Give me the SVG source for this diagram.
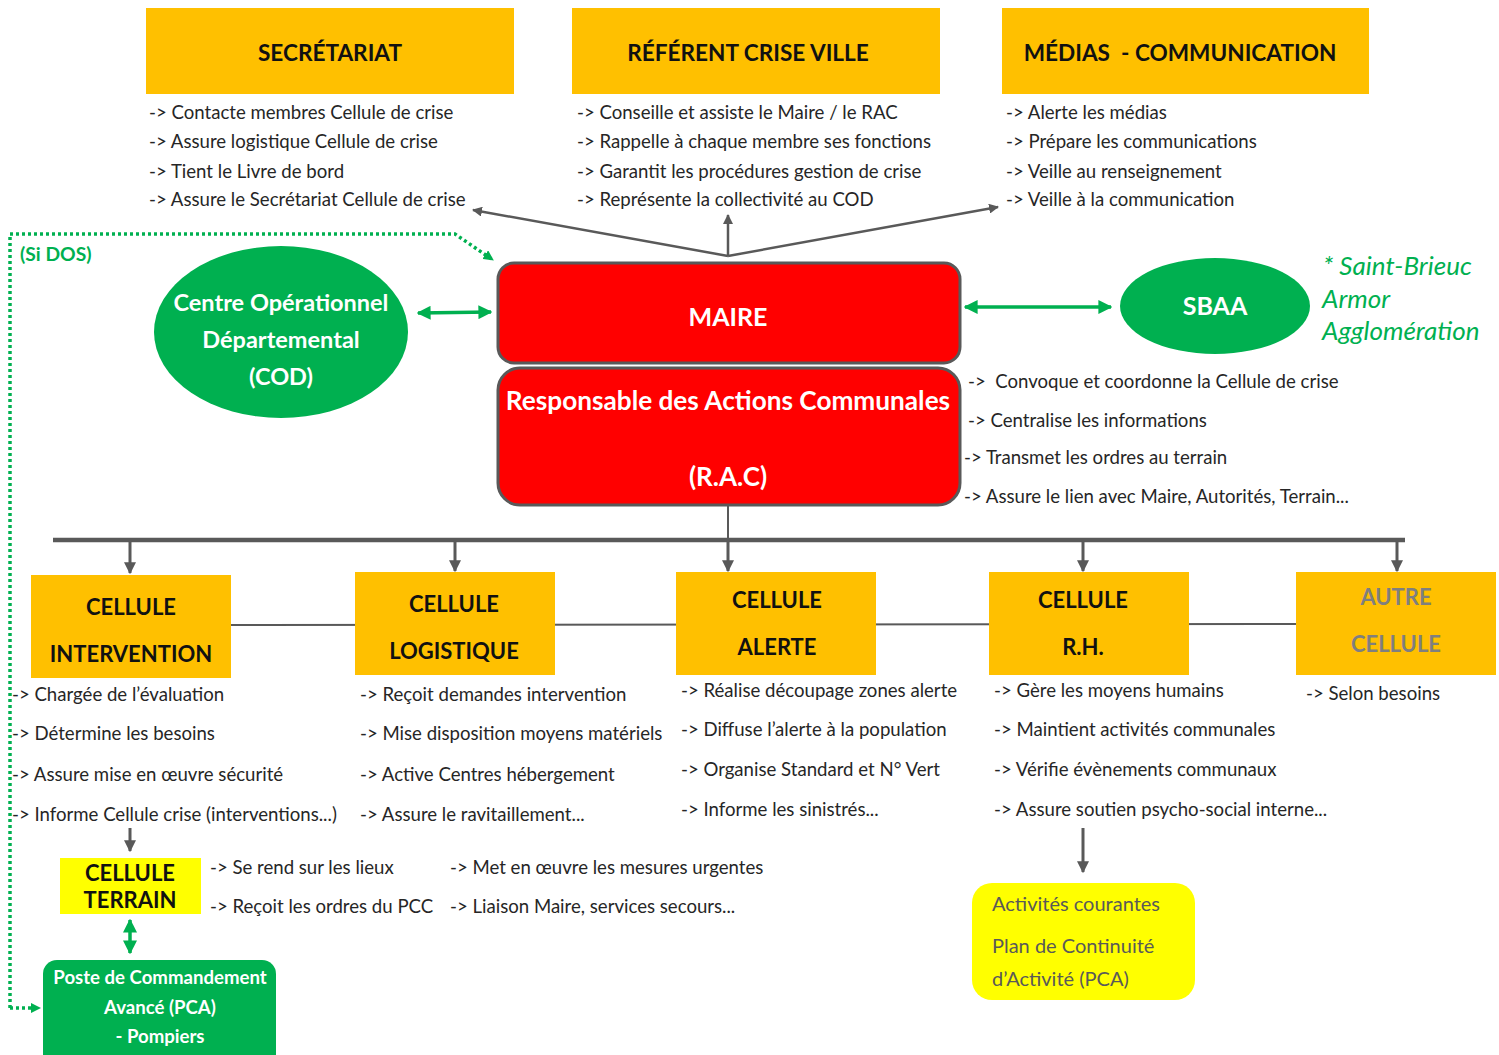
<svg xmlns="http://www.w3.org/2000/svg" width="1499" height="1055" viewBox="0 0 1499 1055">
<style>
text{font-family:Lato,"Open Sans","Liberation Sans",sans-serif}
.t{font-size:18.6px;fill:#262626}
.h{font-size:22px;font-weight:bold;fill:#111;text-anchor:middle}
.ht{font-size:22.6px}
.w{font-weight:bold;fill:#fff;text-anchor:middle}
.org{fill:#FFC000}
.g{stroke:#595959;fill:none}
.gr{stroke:#00B050;fill:none}
</style>
<defs>
<marker id="ag" viewBox="0 0 10 10" refX="9" refY="5" markerWidth="4" markerHeight="4" orient="auto-start-reverse"><path d="M0,0L10,5L0,10z" fill="#595959"/></marker>
<marker id="agr" viewBox="0 0 10 10" refX="9" refY="5" markerWidth="4" markerHeight="4" orient="auto-start-reverse"><path d="M0,0L10,5L0,10z" fill="#00B050"/></marker>
<marker id="agd" viewBox="0 0 10 10" refX="9" refY="5" markerWidth="3" markerHeight="3" orient="auto"><path d="M0,0L10,5L0,10z" fill="#00B050"/></marker>
</defs>

<g id="connectors">
<path class="g" d="M728,256L473,210" stroke-width="2.5" marker-end="url(#ag)"/>
<path class="g" d="M728,256L728,215" stroke-width="2.5" marker-end="url(#ag)"/>
<path class="g" d="M728,256L998,207" stroke-width="2.5" marker-end="url(#ag)"/>
<path class="gr" d="M10,1008L10,234L455,234L493,260" stroke-width="3.5" stroke-dasharray="3,3" marker-end="url(#agd)"/>
<path class="gr" d="M10,1008L40,1008" stroke-width="3.5" stroke-dasharray="3,3" marker-end="url(#agd)"/>
<path class="gr" d="M418,313L491,312" stroke-width="3.5" marker-start="url(#agr)" marker-end="url(#agr)"/>
<path class="gr" d="M965,307L1111,307" stroke-width="3.5" marker-start="url(#agr)" marker-end="url(#agr)"/>
<path class="g" d="M728,505L728,540" stroke-width="2"/>
<path class="g" d="M53,540L1405,540" stroke-width="4.5"/>
<path class="g" d="M130,541L130,573" stroke-width="3" marker-end="url(#ag)"/>
<path class="g" d="M455,541L455,571" stroke-width="3" marker-end="url(#ag)"/>
<path class="g" d="M728,541L728,571" stroke-width="3" marker-end="url(#ag)"/>
<path class="g" d="M1083,541L1083,571" stroke-width="3" marker-end="url(#ag)"/>
<path class="g" d="M1397,541L1397,571" stroke-width="3" marker-end="url(#ag)"/>
<path class="g" d="M231,625L1296,624" stroke-width="2" stroke="#808080"/>
<path class="g" d="M130,828L130,851" stroke-width="3" stroke="#7F7F7F" marker-end="url(#ag)"/>
<path class="gr" d="M130,920L130,953" stroke-width="3.5" marker-start="url(#agr)" marker-end="url(#agr)"/>
<path class="g" d="M1083,828L1083,872" stroke-width="3" stroke="#7F7F7F" marker-end="url(#ag)"/>
</g>

<g id="secretariat">
<rect class="org" x="146" y="8" width="368" height="86"/>
<text class="h ht" x="330" y="61">SECRÉTARIAT</text>
<text class="t" x="149" y="119">-&gt; Contacte membres Cellule de crise</text>
<text class="t" x="149" y="148">-&gt; Assure logistique Cellule de crise</text>
<text class="t" x="149" y="178">-&gt; Tient le Livre de bord</text>
<text class="t" x="149" y="206">-&gt; Assure le Secrétariat Cellule de crise</text>
</g>

<g id="referent">
<rect class="org" x="572" y="8" width="368" height="86"/>
<text class="h ht" x="748" y="61">RÉFÉRENT CRISE VILLE</text>
<text class="t" x="577" y="119">-&gt; Conseille et assiste le Maire / le RAC</text>
<text class="t" x="577" y="148">-&gt; Rappelle à chaque membre ses fonctions</text>
<text class="t" x="577" y="178">-&gt; Garantit les procédures gestion de crise</text>
<text class="t" x="577" y="206">-&gt; Représente la collectivité au COD</text>
</g>

<g id="medias">
<rect class="org" x="1002" y="8" width="367" height="86"/>
<text class="h ht" x="1180" y="61" xml:space="preserve">MÉDIAS  - COMMUNICATION</text>
<text class="t" x="1006" y="119">-&gt; Alerte les médias</text>
<text class="t" x="1006" y="148">-&gt; Prépare les communications</text>
<text class="t" x="1006" y="178">-&gt; Veille au renseignement</text>
<text class="t" x="1006" y="206">-&gt; Veille à la communication</text>
</g>

<g id="si-dos">
<text x="20" y="261" font-size="19.3" font-weight="bold" fill="#00B050">(Si DOS)</text>
</g>

<g id="cod">
<ellipse cx="281" cy="332" rx="127" ry="86" fill="#00B050"/>
<text class="w" x="281" y="311" font-size="23.5">Centre Opérationnel</text>
<text class="w" x="281" y="348" font-size="23.5">Départemental</text>
<text class="w" x="281" y="385" font-size="23.5">(COD)</text>
</g>

<g id="maire">
<rect x="498" y="263" width="462" height="100" rx="16" fill="#FF0000" stroke="#595959" stroke-width="3"/>
<text class="w" x="728" y="326" font-size="25">MAIRE</text>
</g>

<g id="rac">
<rect x="498" y="368" width="462" height="137" rx="22" fill="#FF0000" stroke="#595959" stroke-width="3"/>
<text class="w" x="728" y="410" font-size="26.2">Responsable des Actions Communales</text>
<text class="w" x="728" y="486" font-size="26">(R.A.C)</text>
<text class="t" x="968" y="388" xml:space="preserve">-&gt;  Convoque et coordonne la Cellule de crise</text>
<text class="t" x="968" y="427">-&gt; Centralise les informations</text>
<text class="t" x="964" y="464">-&gt; Transmet les ordres au terrain</text>
<text class="t" x="964" y="503">-&gt; Assure le lien avec Maire, Autorités, Terrain...</text>
</g>

<g id="sbaa">
<ellipse cx="1215" cy="306" rx="95" ry="48" fill="#00B050"/>
<text class="w" x="1215" y="315" font-size="25">SBAA</text>
<text x="1323" y="275" font-size="26" font-style="italic" fill="#00B050">* Saint-Brieuc</text>
<text x="1322" y="308" font-size="26" font-style="italic" fill="#00B050">Armor</text>
<text x="1322" y="340" font-size="26" font-style="italic" fill="#00B050">Agglomération</text>
</g>

<g id="cellule-intervention">
<rect class="org" x="31" y="575" width="200" height="103"/>
<text class="h" x="131" y="615">CELLULE</text>
<text class="h" x="131" y="662">INTERVENTION</text>
<text class="t" x="12" y="701">-&gt; Chargée de l’évaluation</text>
<text class="t" x="12" y="740">-&gt; Détermine les besoins</text>
<text class="t" x="12" y="781">-&gt; Assure mise en œuvre sécurité</text>
<text class="t" x="12" y="821">-&gt; Informe Cellule crise (interventions...)</text>
</g>

<g id="cellule-logistique">
<rect class="org" x="355" y="572" width="200" height="103"/>
<text class="h" x="454" y="612">CELLULE</text>
<text class="h" x="454" y="659">LOGISTIQUE</text>
<text class="t" x="360" y="701">-&gt; Reçoit demandes intervention</text>
<text class="t" x="360" y="740">-&gt; Mise disposition moyens matériels</text>
<text class="t" x="360" y="781">-&gt; Active Centres hébergement</text>
<text class="t" x="360" y="821">-&gt; Assure le ravitaillement...</text>
</g>

<g id="cellule-alerte">
<rect class="org" x="676" y="572" width="200" height="103"/>
<text class="h" x="777" y="608">CELLULE</text>
<text class="h" x="777" y="655">ALERTE</text>
<text class="t" x="681" y="697">-&gt; Réalise découpage zones alerte</text>
<text class="t" x="681" y="736">-&gt; Diffuse l’alerte à la population</text>
<text class="t" x="681" y="776">-&gt; Organise Standard et N° Vert</text>
<text class="t" x="681" y="816">-&gt; Informe les sinistrés...</text>
</g>

<g id="cellule-rh">
<rect class="org" x="989" y="572" width="200" height="103"/>
<text class="h" x="1083" y="608">CELLULE</text>
<text class="h" x="1083" y="655">R.H.</text>
<text class="t" x="994" y="697">-&gt; Gère les moyens humains</text>
<text class="t" x="994" y="736">-&gt; Maintient activités communales</text>
<text class="t" x="994" y="776">-&gt; Vérifie évènements communaux</text>
<text class="t" x="994" y="816">-&gt; Assure soutien psycho-social interne...</text>
</g>

<g id="autre-cellule">
<rect class="org" x="1296" y="572" width="200" height="103"/>
<text class="h" x="1396" y="605" style="fill:#7F7F7F">AUTRE</text>
<text class="h" x="1396" y="652" style="fill:#7F7F7F">CELLULE</text>
<text class="t" x="1306" y="700">-&gt; Selon besoins</text>
</g>

<g id="cellule-terrain">
<rect x="60" y="858" width="141" height="56" fill="#FFFF00"/>
<text class="h" x="130" y="881" font-size="22">CELLULE</text>
<text class="h" x="130" y="908" font-size="22">TERRAIN</text>
<text class="t" x="210" y="874">-&gt; Se rend sur les lieux</text>
<text class="t" x="210" y="913">-&gt; Reçoit les ordres du PCC</text>
<text class="t" x="450" y="874">-&gt; Met en œuvre les mesures urgentes</text>
<text class="t" x="450" y="913">-&gt; Liaison Maire, services secours...</text>
</g>

<g id="pca">
<rect x="43" y="960" width="233" height="110" rx="14" fill="#00B050"/>
<text class="w" x="160" y="984" font-size="18.6">Poste de Commandement</text>
<text class="w" x="160" y="1014" font-size="18.6">Avancé (PCA)</text>
<text class="w" x="160" y="1043" font-size="18.6">- Pompiers</text>
</g>

<g id="activites">
<rect x="972" y="883" width="223" height="117" rx="20" fill="#FFFF00"/>
<text x="992" y="911" font-size="20" fill="#595959">Activités courantes</text>
<text x="992" y="953" font-size="20" fill="#595959">Plan de Continuité</text>
<text x="992" y="986" font-size="20" fill="#595959">d’Activité (PCA)</text>
</g>
</svg>
